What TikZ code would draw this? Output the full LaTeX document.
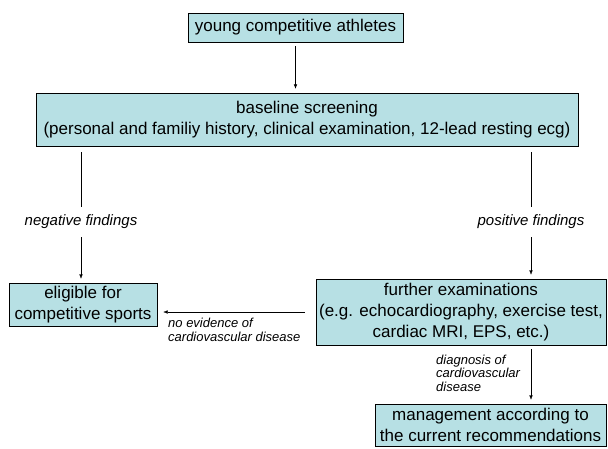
\documentclass[tikz,border=0pt]{standalone}
\usepackage{fontspec}
\setmainfont{Liberation Sans}
\usetikzlibrary{arrows.meta,positioning,shadows}
\definecolor{boxfill}{RGB}{183,224,228}

\begin{document}
\begin{tikzpicture}[x=1pt, y=-1pt,
  box/.style={draw, fill=boxfill, align=center, inner sep=1pt, font=\fontsize{17}{21}\selectfont, drop shadow={shadow xshift=1.2pt, shadow yshift=-1.2pt, fill=black!40}},
  finding/.style={font=\fontsize{15}{17}\selectfont\itshape, inner xsep=0pt, inner ysep=8pt},
  note/.style={font=\fontsize{13}{13.5}\selectfont\itshape, align=left, inner sep=0pt},
  flow/.style={-{Latex[length=4.5pt,width=3.5pt]}, shorten >=4pt, shorten <=4pt}
]
\useasboundingbox (0,0) rectangle (608,448);
\node[box, minimum width=215pt, minimum height=29pt] (athletes) at (295.5,27.5) {young competitive athletes};
\node[box, minimum width=542pt, minimum height=53pt] (screening) at (307,119.5) {baseline screening\\(personal and familiy history, clinical examination, 12-lead resting ecg)};
\node[box, minimum width=148pt, minimum height=43pt] (eligible) at (83,304.5) {eligible for\\competitive sports};
\node[box, minimum width=290pt, minimum height=66pt] (further) at (461,312) {further examinations\\(e.g. echocardiography, exercise test,\\cardiac MRI, EPS, etc.)};
\node[box, minimum width=231pt, minimum height=42pt] (management) at (490.5,425) {management according to\\the current recommendations};
\node[finding] (negative) at (81,222) {negative findings};
\node[finding] (positive) at (531,222) {positive findings};
\node[note, anchor=north west] (noevidence) at (168,318) {no evidence of\\cardiovascular disease};
\node[note, anchor=west] (diagnosis) at (436,373) {diagnosis of\\cardiovascular\\disease};
\draw[flow] (athletes.south) -- (athletes.south |- screening.north);
\draw[shorten <=6pt] (negative |- screening.south) -- (negative);
\draw[flow, shorten <=0pt] (negative) -- (negative |- eligible.north);
\draw[shorten <=6pt] (positive |- screening.south) -- (positive);
\draw[flow, shorten <=0pt] (positive) -- (positive |- further.north);
\draw[flow, shorten <=11pt, shorten >=6pt] (further.west) -- (further.west -| eligible.east);
\draw[flow] (further.south -| positive) -- (management.north -| positive);
\end{tikzpicture}
\end{document}
